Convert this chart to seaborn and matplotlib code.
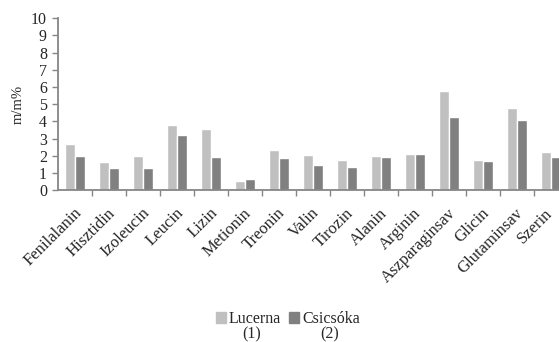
import pandas as pd
import numpy as np
import matplotlib.pyplot as plt
import matplotlib.transforms as mtransforms
import seaborn as sns

# adatok (m/m%)
aminosavak = ['Fenilalanin', 'Hisztidin', 'Izoleucin', 'Leucin', 'Lizin', 'Metionin',
              'Treonin', 'Valin', 'Tirozin', 'Alanin', 'Arginin', 'Aszparaginsav',
              'Glicin', 'Glutaminsav', 'Szerin']
lucerna = [2.66, 1.65, 1.98, 3.80, 3.53, 0.52, 2.33, 2.04, 1.75, 1.98, 2.10, 5.77, 1.75, 4.79, 2.23]
csicsoka = [2.00, 1.30, 1.26, 3.20, 1.90, 0.62, 1.86, 1.47, 1.36, 1.94, 2.08, 4.23, 1.69, 4.08, 1.90]
minta_nevek = ['Lucerna', 'Csicsóka']
minta_szamok = ['(1)', '(2)']

df = pd.DataFrame({
    'aminosav': aminosavak * 2,
    'ertek': lucerna + csicsoka,
    'minta': [minta_nevek[0]] * len(aminosavak) + [minta_nevek[1]] * len(aminosavak),
})

sns.set_style('white')
plt.rcParams['font.family'] = ['Liberation Serif', 'DejaVu Serif']

fig = plt.figure(figsize=(5.59, 3.42), dpi=100)
ax = fig.add_axes([0.1038, 0.4444, 0.9123, 0.502])

szinek = ['#c0c0c0', '#808080']
sns.barplot(data=df, x='aminosav', y='ertek', hue='minta', palette=szinek,
            width=0.57, ax=ax, legend=False, saturation=1)

ax.set_ylim(0, 10)
ax.set_yticks(range(0, 11))
ax.set_xlim(-0.5, len(aminosavak) - 0.5)
ax.set_xlabel('')
ax.set_ylabel('m/m%', fontsize=10.5)
ax.yaxis.set_label_coords(-0.066, 0.5)

for s in ['top', 'right']:
    ax.spines[s].set_visible(False)
for s in ['left', 'bottom']:
    ax.spines[s].set_color('#868686')
    ax.spines[s].set_linewidth(1.3)

ax.tick_params(axis='y', length=4, width=1, color='#868686', labelsize=11.5, pad=4, left=True)
ax.set_xticks(range(len(aminosavak)))
ax.set_xticklabels(aminosavak, rotation=45, ha='right', va='center',
                   rotation_mode='anchor', fontsize=12)
ax.tick_params(axis='x', which='major', length=0, pad=15)
ax.set_xticks(np.arange(0.5, len(aminosavak) - 0.5, 1), minor=True)
ax.tick_params(axis='x', which='minor', length=4, width=1, color='#868686', bottom=True)

# feliratok kicsit jobbra (az utolsó ne lógjon ki)
cimkek = ax.get_xticklabels()
for i, lbl in enumerate(cimkek):
    dx = 4 if i < len(cimkek) - 1 else -1
    lbl.set_transform(lbl.get_transform() +
                      mtransforms.ScaledTranslation(dx / 100, 0, fig.dpi_scale_trans))

# jelmagyarázat
handles = [plt.Rectangle((0, 0), 1, 1, color=c) for c in szinek]
fig.legend(handles, minta_nevek, loc='center', bbox_to_anchor=(0.515, 0.067), ncol=2,
           frameon=False, fontsize=11.5, handlelength=0.6, handleheight=0.6,
           handletextpad=0.2, columnspacing=0.5, borderpad=0)
fig.text(0.451, 0.022, minta_szamok[0], ha='center', va='center', fontsize=11.5)
fig.text(0.590, 0.022, minta_szamok[1], ha='center', va='center', fontsize=11.5)

plt.savefig('out.png', dpi=100)
